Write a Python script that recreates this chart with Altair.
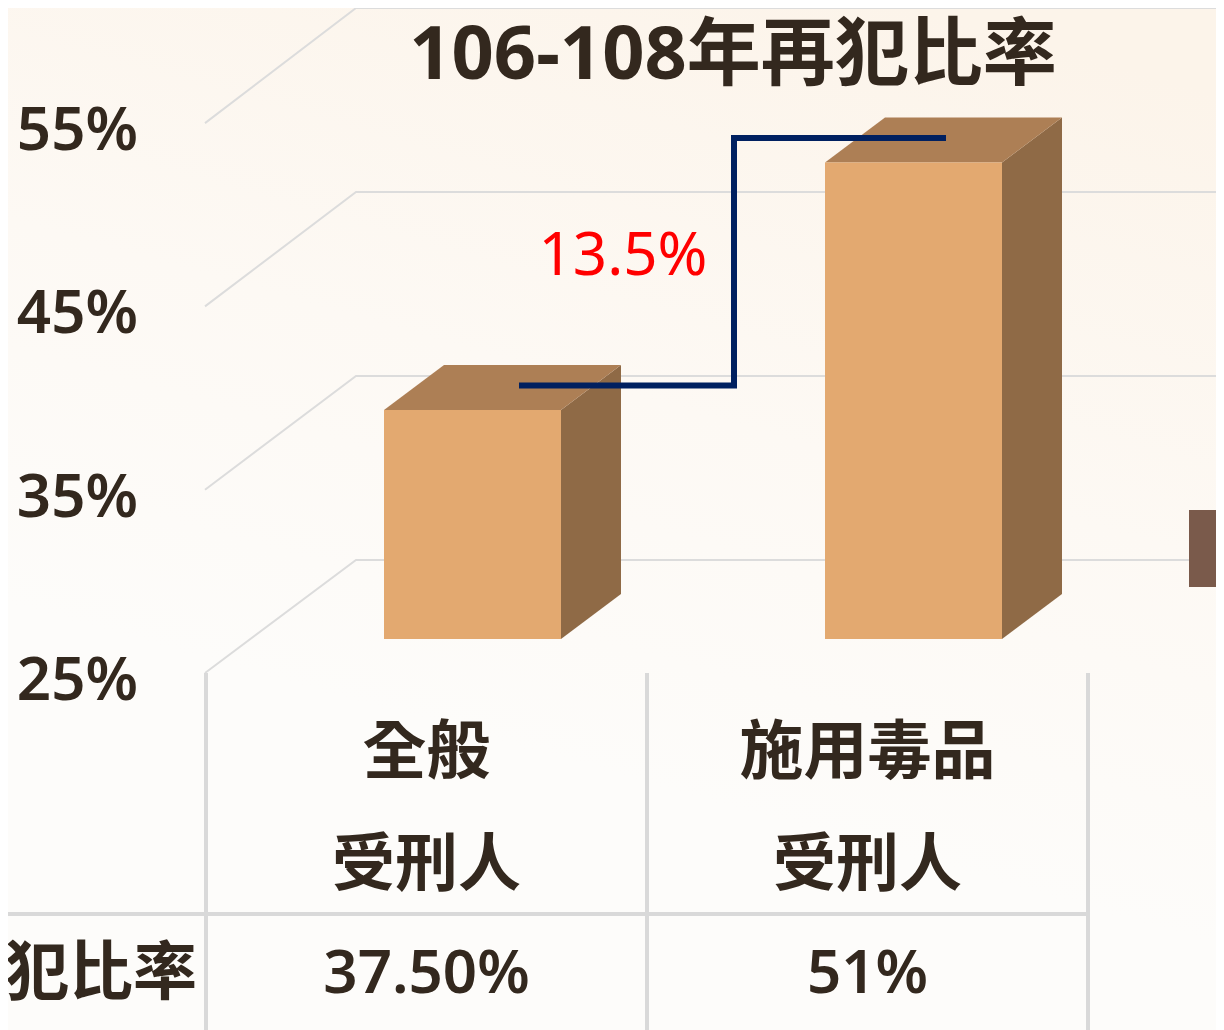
import altair as alt
import pandas as pd

# ---- content ----
CATEGORIES = ["全般受刑人", "施用毒品受刑人"]
LABEL_LINE1 = ["全般", "施用毒品"]
LABEL_LINE2 = ["受刑人", "受刑人"]
VALUES = [37.5, 51.0]
VALUE_LABELS = ["37.50%", "51%"]
TICKS = [25, 35, 45, 55]
TICK_LABELS = ["25%", "35%", "45%", "55%"]
TITLE = "106-108年再犯比率"
ROW_LABEL = "再犯比率"
DIFF_LABEL = "13.5%"

# ---- colours ----
INK = "#33281e"
GRID = "#dcdcdc"
FRONT = "#e3a970"
TOP = "#ad7f55"
SIDE = "#8f6a46"
NAVY = "#002060"
FONT = "Noto Sans, Noto Sans CJK TC"
CJK = "Noto Sans CJK TC"

# ---- geometry of the pseudo 3-D plot ----
W, H = 1208, 1022
PX_PER_UNIT = 18.33      # pixels per percentage point
WALL_PX_PER_UNIT = 18.4  # the back wall's pixels per point
SLOT = 441.0             # category slot width in pixels
LEFT = 206.0             # page x of the first slot


def sx(px):              # page pixel -> slot units
    return (px - LEFT) / SLOT


def dv(px):              # pixel height -> value units
    return px / PX_PER_UNIT


def vy(px):              # page pixel -> value on the bar plane
    return 25 + (639 - px) / PX_PER_UNIT


x_scale = alt.Scale(domain=[sx(8), sx(8 + W)], range=[0, W], nice=False, zero=False)
y_scale = alt.Scale(domain=[vy(8 + H), vy(8)], range=[H, 0], nice=False, zero=False)
X = alt.X("x:Q", scale=x_scale, axis=None, sort=None)
Y = alt.Y("y:Q", scale=y_scale, axis=None, stack=None)
Y2 = alt.Y2("y2:Q")

BAR_L, BAR_R = sx(384), sx(561)
DEPTH_X, DEPTH_Y = sx(621) - sx(561), dv(45)
WALL_F, WALL_B = dv(-34), dv(79)      # value shift of wall front / back edge
WALL_X0, WALL_X1, WALL_X2 = sx(205), sx(356), sx(1224)

# background
bg = alt.Chart(pd.DataFrame({"a": [0]})).mark_rect(
    fill=alt.LinearGradient(
        gradient="linear", x1=0.75, y1=0, x2=0.5, y2=0.75,
        stops=[alt.GradientStop(offset=0, color="#fcf4ea"),
               alt.GradientStop(offset=0.55, color="#fdf9f4"),
               alt.GradientStop(offset=1, color="#fdfcfa")])
).encode(x=alt.value(0), x2=alt.value(W), y=alt.value(0), y2=alt.value(H))

# gridlines
grid_rows = []
for t in TICKS:
    back = 25 + (t - 25) * WALL_PX_PER_UNIT / PX_PER_UNIT + WALL_B
    grid_rows += [
        {"g": t, "i": 0, "x": WALL_X0, "y": t + WALL_F},
        {"g": t, "i": 1, "x": WALL_X1, "y": back},
        {"g": t, "i": 2, "x": WALL_X2, "y": back},
    ]
grid = alt.Chart(pd.DataFrame(grid_rows)).mark_line(
    stroke=GRID, strokeWidth=2, clip=True
).encode(x=X, y=Y, detail="g:N", order="i:Q")

# table rules
table_v = alt.Chart(pd.DataFrame({
    "x": [0, 1, 2], "y": [vy(673)] * 3, "y2": [vy(1030)] * 3
})).mark_rule(stroke="#d9d9d9", strokeWidth=4).encode(x=X, y=Y, y2=Y2)
table_h = alt.Chart(pd.DataFrame({
    "x": [sx(8)], "x2": [2.0], "y": [vy(914)]
})).mark_rule(stroke="#d9d9d9", strokeWidth=4).encode(x=X, x2="x2:Q", y=Y)

# bars
front, top, side = [], [], []
for i, v in enumerate(VALUES):
    l, r = i + BAR_L, i + BAR_R
    front.append({"x": l, "x2": r, "y": 25, "y2": v})
    top += [
        {"g": i, "x": l, "y": v, "y2": v},
        {"g": i, "x": l + DEPTH_X, "y": v + DEPTH_Y, "y2": v},
        {"g": i, "x": r, "y": v + DEPTH_Y, "y2": v},
        {"g": i, "x": r + DEPTH_X, "y": v + DEPTH_Y, "y2": v + DEPTH_Y},
    ]
    side += [
        {"g": i, "x": r, "y": v, "y2": 25},
        {"g": i, "x": r + DEPTH_X, "y": v + DEPTH_Y, "y2": 25 + DEPTH_Y},
    ]
front_l = alt.Chart(pd.DataFrame(front)).mark_rect(fill=FRONT).encode(
    x=X, x2="x2:Q", y=Y, y2=Y2)
top_l = alt.Chart(pd.DataFrame(top)).mark_area(fill=TOP, orient="vertical").encode(
    x=X, y=Y, y2=Y2, detail="g:N")
side_l = alt.Chart(pd.DataFrame(side)).mark_area(fill=SIDE, orient="vertical").encode(
    x=X, y=Y, y2=Y2, detail="g:N")

# difference step line
mid = dv(24.5)
step = pd.DataFrame({
    "i": [0, 1, 2, 3],
    "x": [sx(519), sx(734), sx(734), sx(946)],
    "y": [VALUES[0] + mid, VALUES[0] + mid, VALUES[1] + mid, VALUES[1] + mid],
})
step_l = alt.Chart(step).mark_line(stroke=NAVY, strokeWidth=6, strokeCap="butt",
                                   strokeJoin="miter").encode(x=X, y=Y, order="i:Q")

# cropped legend swatch at the right edge
swatch = alt.Chart(pd.DataFrame({
    "x": [sx(1189)], "x2": [sx(1216)], "y": [vy(510)], "y2": [vy(587)]
})).mark_rect(fill="#7a5a4b").encode(x=X, x2="x2:Q", y=Y, y2=Y2)


def text_layer(rows, size, color=INK, weight=400, align="center", font=FONT):
    return alt.Chart(pd.DataFrame(rows)).mark_text(
        fontSize=size, fontWeight=weight, color=color, align=align,
        baseline="middle", font=font
    ).encode(x=X, y=Y, text="t:N")


title_l = text_layer([{"x": sx(733), "y": vy(57), "t": TITLE}], 74, weight=700)
tick_l = text_layer(
    [{"x": sx(138), "y": t + WALL_F - dv(9), "t": s} for t, s in zip(TICKS, TICK_LABELS)],
    60, weight=600, align="right")
diff_l = text_layer([{"x": sx(623), "y": vy(257), "t": DIFF_LABEL}], 60, color="#ff0000")
line1 = text_layer([{"x": i + 0.5, "y": vy(754), "t": s} for i, s in enumerate(LABEL_LINE1)],
                   64, weight=700, font=CJK)
line2 = text_layer([{"x": i + 0.5, "y": vy(866), "t": s} for i, s in enumerate(LABEL_LINE2)],
                   63, weight=700, font=CJK)
vals = text_layer([{"x": i + 0.5, "y": vy(975), "t": s} for i, s in enumerate(VALUE_LABELS)],
                  60, weight=600)
row = text_layer([{"x": sx(197), "y": vy(975), "t": ROW_LABEL}], 64, weight=700,
                 align="right", font=CJK)

chart = alt.layer(
    bg, grid, table_v, table_h, swatch, side_l, top_l, front_l, step_l,
    title_l, tick_l, diff_l, line1, line2, vals, row
).properties(
    width=W, height=H, padding=0, autosize=alt.AutoSizeParams(type="none")
).configure_view(stroke=None)

chart.save("out.html", embed_options={"renderer": "svg", "actions": False})
